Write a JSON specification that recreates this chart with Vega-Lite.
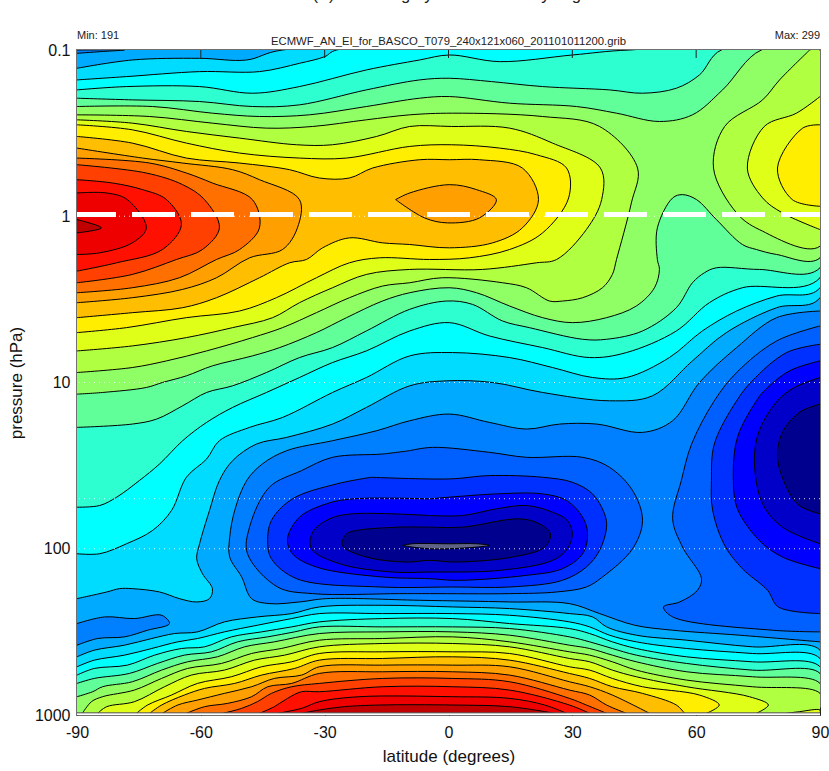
{"$schema":"https://vega.github.io/schema/vega-lite/v6.json","width":743,"height":665,"autosize":"none","padding":{"left":77,"top":50,"right":9,"bottom":56},"background":"white",
"title":{"text":"T (K) zonal avg by ERA-I: January avg","font":"Liberation Sans","fontSize":16.6,"fontWeight":"normal","color":"#222","anchor":"middle","dx":-9,"offset":27},
"config":{"view":{"stroke":"#707070","strokeWidth":2}},
"layer":[
{"data":{"values":[
{"id":"base","lat":-90,"lev":-1},{"id":"base","lat":90,"lev":-1},{"id":"base","lat":90,"lev":2.99},{"id":"base","lat":-90,"lev":2.99},
{"id":"c6a","lat":-90,"lev":-1},{"id":"c6a","lat":-78.5,"lev":-1},{"id":"c6a","lat":-84.4,"lev":-0.99},{"id":"c6a","lat":-90,"lev":-0.98},
{"id":"c6b","lat":-90,"lev":2.45},{"id":"c6b","lat":-83.3,"lev":2.41},{"id":"c6b","lat":-76.1,"lev":2.42},{"id":"c6b","lat":-69.5,"lev":2.4},{"id":"c6b","lat":-67.6,"lev":2.45},{"id":"c6b","lat":-72.9,"lev":2.49},{"id":"c6b","lat":-78.5,"lev":2.53},{"id":"c6b","lat":-85,"lev":2.54},{"id":"c6b","lat":-90,"lev":2.58},
{"id":"c6m","lat":90,"lev":0.57},{"id":"c6m","lat":79.5,"lev":0.61},{"id":"c6m","lat":69.8,"lev":0.79},{"id":"c6m","lat":60.8,"lev":1},{"id":"c6m","lat":54.3,"lev":1.23},{"id":"c6m","lat":47,"lev":1.3},{"id":"c6m","lat":35.9,"lev":1.25},{"id":"c6m","lat":26.9,"lev":1.25},{"id":"c6m","lat":18.9,"lev":1.28},{"id":"c6m","lat":9.9,"lev":1.24},{"id":"c6m","lat":0.2,"lev":1.19},{"id":"c6m","lat":-9.4,"lev":1.23},{"id":"c6m","lat":-17.4,"lev":1.29},{"id":"c6m","lat":-28.1,"lev":1.35},{"id":"c6m","lat":-39.2,"lev":1.41},{"id":"c6m","lat":-45.1,"lev":1.49},{"id":"c6m","lat":-48.9,"lev":1.59},{"id":"c6m","lat":-51.8,"lev":1.77},{"id":"c6m","lat":-53,"lev":1.93},{"id":"c6m","lat":-53,"lev":2.05},{"id":"c6m","lat":-50.1,"lev":2.17},{"id":"c6m","lat":-47.7,"lev":2.3},{"id":"c6m","lat":-43.4,"lev":2.33},{"id":"c6m","lat":-36.1,"lev":2.32},{"id":"c6m","lat":-29.6,"lev":2.3},{"id":"c6m","lat":-7,"lev":2.31},{"id":"c6m","lat":14.8,"lev":2.32},{"id":"c6m","lat":29.3,"lev":2.33},{"id":"c6m","lat":36.6,"lev":2.39},{"id":"c6m","lat":45.1,"lev":2.46},{"id":"c6m","lat":54.3,"lev":2.49},{"id":"c6m","lat":70.5,"lev":2.52},{"id":"c6m","lat":90,"lev":2.56},
{"id":"c5p","lat":90,"lev":0.66},{"id":"c5p","lat":79.5,"lev":0.75},{"id":"c5p","lat":69.8,"lev":0.94},{"id":"c5p","lat":64.4,"lev":1.11},{"id":"c5p","lat":58.9,"lev":1.37},{"id":"c5p","lat":56.4,"lev":1.59},{"id":"c5p","lat":54.3,"lev":1.82},{"id":"c5p","lat":56.7,"lev":1.99},{"id":"c5p","lat":61.3,"lev":2.18},{"id":"c5p","lat":60.3,"lev":2.25},{"id":"c5p","lat":56,"lev":2.32},{"id":"c5p","lat":52.1,"lev":2.35},{"id":"c5p","lat":54.3,"lev":2.41},{"id":"c5p","lat":78.5,"lev":2.49},{"id":"c5p","lat":90,"lev":2.5},
{"id":"c5t","lat":-9.4,"lev":1.41},{"id":"c5t","lat":-3.9,"lev":1.39},{"id":"c5t","lat":9.9,"lev":1.42},{"id":"c5t","lat":18.9,"lev":1.45},{"id":"c5t","lat":32.5,"lev":1.45},{"id":"c5t","lat":39,"lev":1.51},{"id":"c5t","lat":44.6,"lev":1.65},{"id":"c5t","lat":47,"lev":1.83},{"id":"c5t","lat":44.6,"lev":2},{"id":"c5t","lat":37.3,"lev":2.17},{"id":"c5t","lat":33.4,"lev":2.23},{"id":"c5t","lat":26.2,"lev":2.26},{"id":"c5t","lat":14.8,"lev":2.27},{"id":"c5t","lat":-4.6,"lev":2.27},{"id":"c5t","lat":-11.9,"lev":2.27},{"id":"c5t","lat":-32.9,"lev":2.27},{"id":"c5t","lat":-41.4,"lev":2.23},{"id":"c5t","lat":-48.7,"lev":2.03},{"id":"c5t","lat":-48.2,"lev":1.87},{"id":"c5t","lat":-43.4,"lev":1.63},{"id":"c5t","lat":-35.6,"lev":1.53},{"id":"c5t","lat":-28.1,"lev":1.45},{"id":"c5t","lat":-16,"lev":1.43},{"id":"c5t","lat":-9.4,"lev":1.41},
{"id":"c4p","lat":90,"lev":0.77},{"id":"c4p","lat":81.9,"lev":0.82},{"id":"c4p","lat":73.6,"lev":0.99},{"id":"c4p","lat":69.8,"lev":1.11},{"id":"c4p","lat":64.4,"lev":1.37},{"id":"c4p","lat":63.7,"lev":1.59},{"id":"c4p","lat":64,"lev":1.77},{"id":"c4p","lat":66.9,"lev":1.98},{"id":"c4p","lat":71.2,"lev":2.12},{"id":"c4p","lat":77.3,"lev":2.25},{"id":"c4p","lat":79.9,"lev":2.35},{"id":"c4p","lat":90,"lev":2.39},
{"id":"c4t","lat":-18.7,"lev":1.57},{"id":"c4t","lat":0.2,"lev":1.58},{"id":"c4t","lat":9.9,"lev":1.56},{"id":"c4t","lat":22.8,"lev":1.57},{"id":"c4t","lat":30,"lev":1.6},{"id":"c4t","lat":34.9,"lev":1.67},{"id":"c4t","lat":37.8,"lev":1.79},{"id":"c4t","lat":38.3,"lev":1.87},{"id":"c4t","lat":36.6,"lev":2.01},{"id":"c4t","lat":33.4,"lev":2.11},{"id":"c4t","lat":27.6,"lev":2.19},{"id":"c4t","lat":14.8,"lev":2.23},{"id":"c4t","lat":1,"lev":2.23},{"id":"c4t","lat":-16.7,"lev":2.23},{"id":"c4t","lat":-36.8,"lev":2.18},{"id":"c4t","lat":-42.9,"lev":2.06},{"id":"c4t","lat":-43.8,"lev":1.96},{"id":"c4t","lat":-42.9,"lev":1.83},{"id":"c4t","lat":-37.8,"lev":1.7},{"id":"c4t","lat":-27.1,"lev":1.61},{"id":"c4t","lat":-18.7,"lev":1.57},
{"id":"c3p","lat":90,"lev":0.87},{"id":"c3p","lat":82.6,"lev":0.93},{"id":"c3p","lat":76.5,"lev":1.05},{"id":"c3p","lat":74.6,"lev":1.11},{"id":"c3p","lat":70,"lev":1.33},{"id":"c3p","lat":69,"lev":1.57},{"id":"c3p","lat":70,"lev":1.76},{"id":"c3p","lat":75.3,"lev":1.95},{"id":"c3p","lat":80.9,"lev":2.05},{"id":"c3p","lat":90,"lev":2.12},
{"id":"c3t","lat":-4.6,"lev":1.7},{"id":"c3t","lat":11.6,"lev":1.67},{"id":"c3t","lat":22.8,"lev":1.67},{"id":"c3t","lat":28.6,"lev":1.71},{"id":"c3t","lat":32.5,"lev":1.81},{"id":"c3t","lat":33.7,"lev":1.91},{"id":"c3t","lat":32.5,"lev":2.03},{"id":"c3t","lat":27.6,"lev":2.12},{"id":"c3t","lat":18.9,"lev":2.16},{"id":"c3t","lat":2.2,"lev":2.19},{"id":"c3t","lat":-4.6,"lev":2.18},{"id":"c3t","lat":-16,"lev":2.17},{"id":"c3t","lat":-32,"lev":2.11},{"id":"c3t","lat":-37.8,"lev":2.03},{"id":"c3t","lat":-39,"lev":1.94},{"id":"c3t","lat":-36.1,"lev":1.81},{"id":"c3t","lat":-29.6,"lev":1.73},{"id":"c3t","lat":-23.3,"lev":1.7},{"id":"c3t","lat":-4.6,"lev":1.7},
{"id":"c2p","lat":90,"lev":0.97},{"id":"c2p","lat":83.8,"lev":1.03},{"id":"c2p","lat":79.7,"lev":1.11},{"id":"c2p","lat":75.3,"lev":1.29},{"id":"c2p","lat":74.1,"lev":1.47},{"id":"c2p","lat":76.1,"lev":1.73},{"id":"c2p","lat":80.9,"lev":1.87},{"id":"c2p","lat":90,"lev":1.97},
{"id":"c2t","lat":-4.6,"lev":1.8},{"id":"c2t","lat":3.4,"lev":1.8},{"id":"c2t","lat":11.6,"lev":1.76},{"id":"c2t","lat":18.9,"lev":1.74},{"id":"c2t","lat":25.2,"lev":1.78},{"id":"c2t","lat":28.8,"lev":1.83},{"id":"c2t","lat":30,"lev":1.91},{"id":"c2t","lat":28.8,"lev":2},{"id":"c2t","lat":25.2,"lev":2.07},{"id":"c2t","lat":12.4,"lev":2.13},{"id":"c2t","lat":-4.6,"lev":2.14},{"id":"c2t","lat":-13.6,"lev":2.14},{"id":"c2t","lat":-26.4,"lev":2.09},{"id":"c2t","lat":-33.2,"lev":2},{"id":"c2t","lat":-32.9,"lev":1.9},{"id":"c2t","lat":-28.8,"lev":1.82},{"id":"c2t","lat":-23.3,"lev":1.79},{"id":"c2t","lat":-4.6,"lev":1.8},
{"id":"c1p","lat":90,"lev":1.13},{"id":"c1p","lat":85,"lev":1.18},{"id":"c1p","lat":80.9,"lev":1.3},{"id":"c1p","lat":79.7,"lev":1.45},{"id":"c1p","lat":81.9,"lev":1.63},{"id":"c1p","lat":85,"lev":1.74},{"id":"c1p","lat":90,"lev":1.79},
{"id":"c1t","lat":-4.6,"lev":1.87},{"id":"c1t","lat":3.4,"lev":1.87},{"id":"c1t","lat":17.2,"lev":1.82},{"id":"c1t","lat":22,"lev":1.85},{"id":"c1t","lat":24.7,"lev":1.91},{"id":"c1t","lat":23.3,"lev":1.99},{"id":"c1t","lat":15.5,"lev":2.05},{"id":"c1t","lat":1.9,"lev":2.08},{"id":"c1t","lat":-4.6,"lev":2.07},{"id":"c1t","lat":-10.2,"lev":2.08},{"id":"c1t","lat":-19.9,"lev":2.05},{"id":"c1t","lat":-25.7,"lev":1.98},{"id":"c1t","lat":-24.7,"lev":1.91},{"id":"c1t","lat":-22.3,"lev":1.89},{"id":"c1t","lat":-11.9,"lev":1.87},{"id":"c1t","lat":-4.6,"lev":1.87},
{"id":"g","lat":-11.1,"lev":1.98},{"id":"g","lat":-8.7,"lev":1.97},{"id":"g","lat":0.2,"lev":1.97},{"id":"g","lat":6.8,"lev":1.97},{"id":"g","lat":9.9,"lev":1.98},{"id":"g","lat":6.8,"lev":1.99},{"id":"g","lat":0.2,"lev":2},{"id":"g","lat":-4.6,"lev":2},{"id":"g","lat":-8.7,"lev":1.99},{"id":"g","lat":-11.1,"lev":1.98},
{"id":"t8","lat":-90,"lev":-0.89},{"id":"t8","lat":-76.6,"lev":-0.94},{"id":"t8","lat":-60.3,"lev":-0.95},{"id":"t8","lat":-48.9,"lev":-0.94},{"id":"t8","lat":-40.2,"lev":-1},{"id":"t8","lat":90,"lev":-1},{"id":"t8","lat":90,"lev":0.49},{"id":"t8","lat":79.5,"lev":0.55},{"id":"t8","lat":67.3,"lev":0.7},{"id":"t8","lat":59.1,"lev":0.87},{"id":"t8","lat":49.4,"lev":1.08},{"id":"t8","lat":39,"lev":1.11},{"id":"t8","lat":22.8,"lev":1.06},{"id":"t8","lat":10.7,"lev":1},{"id":"t8","lat":-0.5,"lev":0.99},{"id":"t8","lat":-9.4,"lev":1.02},{"id":"t8","lat":-19.9,"lev":1.15},{"id":"t8","lat":-28.1,"lev":1.25},{"id":"t8","lat":-39.2,"lev":1.33},{"id":"t8","lat":-46.5,"lev":1.37},{"id":"t8","lat":-52.3,"lev":1.47},{"id":"t8","lat":-55.5,"lev":1.59},{"id":"t8","lat":-57.9,"lev":1.77},{"id":"t8","lat":-60.3,"lev":1.97},{"id":"t8","lat":-61,"lev":2.06},{"id":"t8","lat":-59.6,"lev":2.15},{"id":"t8","lat":-57.2,"lev":2.24},{"id":"t8","lat":-57.9,"lev":2.3},{"id":"t8","lat":-61,"lev":2.32},{"id":"t8","lat":-65.2,"lev":2.3},{"id":"t8","lat":-70,"lev":2.26},{"id":"t8","lat":-76.6,"lev":2.24},{"id":"t8","lat":-79.7,"lev":2.24},{"id":"t8","lat":-82.8,"lev":2.26},{"id":"t8","lat":-90,"lev":2.3},
{"id":"t9","lat":-90,"lev":-0.82},{"id":"t9","lat":-78,"lev":-0.84},{"id":"t9","lat":-60.3,"lev":-0.87},{"id":"t9","lat":-45.8,"lev":-0.87},{"id":"t9","lat":-36.1,"lev":-0.92},{"id":"t9","lat":-30,"lev":-0.96},{"id":"t9","lat":-27.1,"lev":-1},{"id":"t9","lat":90,"lev":-1},{"id":"t9","lat":90,"lev":0.43},{"id":"t9","lat":79.5,"lev":0.48},{"id":"t9","lat":69.8,"lev":0.57},{"id":"t9","lat":61.5,"lev":0.69},{"id":"t9","lat":53.5,"lev":0.85},{"id":"t9","lat":43.1,"lev":0.97},{"id":"t9","lat":34.9,"lev":0.97},{"id":"t9","lat":25.2,"lev":0.91},{"id":"t9","lat":14.8,"lev":0.85},{"id":"t9","lat":1,"lev":0.82},{"id":"t9","lat":-9.4,"lev":0.84},{"id":"t9","lat":-19.9,"lev":0.97},{"id":"t9","lat":-28.1,"lev":1.06},{"id":"t9","lat":-40.2,"lev":1.21},{"id":"t9","lat":-48.2,"lev":1.27},{"id":"t9","lat":-55.5,"lev":1.35},{"id":"t9","lat":-58.6,"lev":1.46},{"id":"t9","lat":-63.5,"lev":1.57},{"id":"t9","lat":-67.1,"lev":1.77},{"id":"t9","lat":-71.7,"lev":1.89},{"id":"t9","lat":-78,"lev":1.97},{"id":"t9","lat":-84.5,"lev":2.03},{"id":"t9","lat":-90,"lev":2.03},
{"id":"t10","lat":-90,"lev":-0.76},{"id":"t10","lat":-78,"lev":-0.78},{"id":"t10","lat":-60.3,"lev":-0.78},{"id":"t10","lat":-47.5,"lev":-0.74},{"id":"t10","lat":-36.1,"lev":-0.78},{"id":"t10","lat":-19.9,"lev":-0.88},{"id":"t10","lat":-7,"lev":-0.94},{"id":"t10","lat":0.2,"lev":-0.97},{"id":"t10","lat":12.4,"lev":-0.93},{"id":"t10","lat":30,"lev":-0.97},{"id":"t10","lat":43.8,"lev":-1},{"id":"t10","lat":90,"lev":-1},{"id":"t10","lat":90,"lev":0.37},{"id":"t10","lat":71.2,"lev":0.43},{"id":"t10","lat":63.2,"lev":0.52},{"id":"t10","lat":55.2,"lev":0.69},{"id":"t10","lat":43.1,"lev":0.82},{"id":"t10","lat":34.2,"lev":0.85},{"id":"t10","lat":22.8,"lev":0.79},{"id":"t10","lat":9.9,"lev":0.72},{"id":"t10","lat":0.2,"lev":0.64},{"id":"t10","lat":-9.4,"lev":0.69},{"id":"t10","lat":-19.9,"lev":0.81},{"id":"t10","lat":-28.1,"lev":0.88},{"id":"t10","lat":-36.1,"lev":0.97},{"id":"t10","lat":-44.1,"lev":1.06},{"id":"t10","lat":-52.3,"lev":1.15},{"id":"t10","lat":-58.6,"lev":1.24},{"id":"t10","lat":-64.4,"lev":1.35},{"id":"t10","lat":-70,"lev":1.49},{"id":"t10","lat":-74.9,"lev":1.59},{"id":"t10","lat":-80.4,"lev":1.69},{"id":"t10","lat":-84.5,"lev":1.74},{"id":"t10","lat":-90,"lev":1.75},
{"id":"t11","lat":-90,"lev":-0.71},{"id":"t11","lat":-76.6,"lev":-0.7},{"id":"t11","lat":-60.3,"lev":-0.69},{"id":"t11","lat":-47.5,"lev":-0.66},{"id":"t11","lat":-36.1,"lev":-0.67},{"id":"t11","lat":-19.9,"lev":-0.76},{"id":"t11","lat":-7,"lev":-0.82},{"id":"t11","lat":0.2,"lev":-0.83},{"id":"t11","lat":10.4,"lev":-0.81},{"id":"t11","lat":22.8,"lev":-0.78},{"id":"t11","lat":39,"lev":-0.76},{"id":"t11","lat":47,"lev":-0.74},{"id":"t11","lat":55.2,"lev":-0.77},{"id":"t11","lat":60.8,"lev":-0.85},{"id":"t11","lat":66.1,"lev":-1},{"id":"t11","lat":90,"lev":-1},{"id":"t11","lat":90,"lev":0.31},{"id":"t11","lat":75.3,"lev":0.32},{"id":"t11","lat":64.9,"lev":0.31},{"id":"t11","lat":62,"lev":0.34},{"id":"t11","lat":59.1,"lev":0.4},{"id":"t11","lat":55.2,"lev":0.55},{"id":"t11","lat":47,"lev":0.69},{"id":"t11","lat":38.3,"lev":0.74},{"id":"t11","lat":32.5,"lev":0.74},{"id":"t11","lat":19.6,"lev":0.67},{"id":"t11","lat":13.1,"lev":0.63},{"id":"t11","lat":5.8,"lev":0.53},{"id":"t11","lat":-0.5,"lev":0.51},{"id":"t11","lat":-9.4,"lev":0.56},{"id":"t11","lat":-19.9,"lev":0.69},{"id":"t11","lat":-28.1,"lev":0.79},{"id":"t11","lat":-36.1,"lev":0.85},{"id":"t11","lat":-44.1,"lev":0.94},{"id":"t11","lat":-52.3,"lev":1.02},{"id":"t11","lat":-58.6,"lev":1.06},{"id":"t11","lat":-64.4,"lev":1.14},{"id":"t11","lat":-70.7,"lev":1.22},{"id":"t11","lat":-76.6,"lev":1.25},{"id":"t11","lat":-90,"lev":1.27},
{"id":"t12","lat":-90,"lev":-0.66},{"id":"t12","lat":-71.7,"lev":-0.66},{"id":"t12","lat":-57.2,"lev":-0.62},{"id":"t12","lat":-45.8,"lev":-0.6},{"id":"t12","lat":-33.7,"lev":-0.61},{"id":"t12","lat":-19.9,"lev":-0.66},{"id":"t12","lat":-7,"lev":-0.71},{"id":"t12","lat":0.2,"lev":-0.72},{"id":"t12","lat":14.8,"lev":-0.68},{"id":"t12","lat":31,"lev":-0.66},{"id":"t12","lat":40.7,"lev":-0.62},{"id":"t12","lat":51.1,"lev":-0.57},{"id":"t12","lat":59.1,"lev":-0.61},{"id":"t12","lat":66.4,"lev":-0.76},{"id":"t12","lat":75.8,"lev":-1},{"id":"t12","lat":90,"lev":-1},{"id":"t12","lat":90,"lev":0.25},{"id":"t12","lat":79.5,"lev":0.23},{"id":"t12","lat":74.6,"lev":0.2},{"id":"t12","lat":71.2,"lev":0.17},{"id":"t12","lat":64.9,"lev":0.02},{"id":"t12","lat":60.1,"lev":-0.1},{"id":"t12","lat":56.7,"lev":-0.13},{"id":"t12","lat":54.3,"lev":-0.11},{"id":"t12","lat":50.6,"lev":0.07},{"id":"t12","lat":50.6,"lev":0.26},{"id":"t12","lat":51.1,"lev":0.32},{"id":"t12","lat":49.9,"lev":0.43},{"id":"t12","lat":45.5,"lev":0.54},{"id":"t12","lat":38.3,"lev":0.61},{"id":"t12","lat":30,"lev":0.64},{"id":"t12","lat":22.8,"lev":0.61},{"id":"t12","lat":14.8,"lev":0.54},{"id":"t12","lat":6.8,"lev":0.46},{"id":"t12","lat":0.2,"lev":0.43},{"id":"t12","lat":-9.4,"lev":0.46},{"id":"t12","lat":-16,"lev":0.51},{"id":"t12","lat":-24.7,"lev":0.61},{"id":"t12","lat":-32,"lev":0.7},{"id":"t12","lat":-40.9,"lev":0.79},{"id":"t12","lat":-47.5,"lev":0.84},{"id":"t12","lat":-57.2,"lev":0.9},{"id":"t12","lat":-63.5,"lev":0.96},{"id":"t12","lat":-69.3,"lev":1},{"id":"t12","lat":-73.2,"lev":1.03},{"id":"t12","lat":-83.8,"lev":1.06},{"id":"t12","lat":-90,"lev":1.07},
{"id":"t13a","lat":-90,"lev":-0.61},{"id":"t13a","lat":-72.4,"lev":-0.6},{"id":"t13a","lat":-57.2,"lev":-0.56},{"id":"t13a","lat":-44.1,"lev":-0.53},{"id":"t13a","lat":-32.9,"lev":-0.54},{"id":"t13a","lat":-19.9,"lev":-0.58},{"id":"t13a","lat":-9.4,"lev":-0.61},{"id":"t13a","lat":1,"lev":-0.62},{"id":"t13a","lat":22.8,"lev":-0.6},{"id":"t13a","lat":36.6,"lev":-0.54},{"id":"t13a","lat":45.8,"lev":-0.29},{"id":"t13a","lat":44.3,"lev":-0.08},{"id":"t13a","lat":40.7,"lev":0.26},{"id":"t13a","lat":39.7,"lev":0.35},{"id":"t13a","lat":37.3,"lev":0.43},{"id":"t13a","lat":32.5,"lev":0.49},{"id":"t13a","lat":27.6,"lev":0.51},{"id":"t13a","lat":24.5,"lev":0.51},{"id":"t13a","lat":18.9,"lev":0.43},{"id":"t13a","lat":13.1,"lev":0.4},{"id":"t13a","lat":-1.5,"lev":0.37},{"id":"t13a","lat":-9.4,"lev":0.4},{"id":"t13a","lat":-16,"lev":0.42},{"id":"t13a","lat":-24,"lev":0.49},{"id":"t13a","lat":-32,"lev":0.58},{"id":"t13a","lat":-40.2,"lev":0.67},{"id":"t13a","lat":-47.5,"lev":0.73},{"id":"t13a","lat":-58.6,"lev":0.81},{"id":"t13a","lat":-68.3,"lev":0.87},{"id":"t13a","lat":-76.6,"lev":0.91},{"id":"t13a","lat":-90,"lev":0.94},
{"id":"t13b","lat":87.5,"lev":-1},{"id":"t13b","lat":90,"lev":-1},{"id":"t13b","lat":90,"lev":0.18},{"id":"t13b","lat":75.3,"lev":0.08},{"id":"t13b","lat":69.8,"lev":-0.02},{"id":"t13b","lat":64.2,"lev":-0.29},{"id":"t13b","lat":66.9,"lev":-0.54},{"id":"t13b","lat":76.1,"lev":-0.7},{"id":"t13b","lat":80.2,"lev":-0.82},{"id":"t13b","lat":87.5,"lev":-1},
{"id":"t14a","lat":-90,"lev":-0.58},{"id":"t14a","lat":-76.6,"lev":-0.56},{"id":"t14a","lat":-63.5,"lev":-0.51},{"id":"t14a","lat":-50.6,"lev":-0.47},{"id":"t14a","lat":-36.8,"lev":-0.43},{"id":"t14a","lat":-28.1,"lev":-0.43},{"id":"t14a","lat":-17.4,"lev":-0.48},{"id":"t14a","lat":-9.4,"lev":-0.54},{"id":"t14a","lat":0.7,"lev":-0.54},{"id":"t14a","lat":14.8,"lev":-0.53},{"id":"t14a","lat":25.2,"lev":-0.44},{"id":"t14a","lat":36.8,"lev":-0.29},{"id":"t14a","lat":37.1,"lev":-0.1},{"id":"t14a","lat":33.4,"lev":0.08},{"id":"t14a","lat":26.2,"lev":0.26},{"id":"t14a","lat":21.3,"lev":0.28},{"id":"t14a","lat":8.2,"lev":0.32},{"id":"t14a","lat":-9.4,"lev":0.32},{"id":"t14a","lat":-19.9,"lev":0.35},{"id":"t14a","lat":-28.1,"lev":0.43},{"id":"t14a","lat":-36.1,"lev":0.52},{"id":"t14a","lat":-42.6,"lev":0.61},{"id":"t14a","lat":-52.3,"lev":0.67},{"id":"t14a","lat":-63.5,"lev":0.73},{"id":"t14a","lat":-76.6,"lev":0.78},{"id":"t14a","lat":-90,"lev":0.81},
{"id":"t14b","lat":90,"lev":-0.72},{"id":"t14b","lat":84.3,"lev":-0.62},{"id":"t14b","lat":76.5,"lev":-0.54},{"id":"t14b","lat":72.4,"lev":-0.29},{"id":"t14b","lat":76.1,"lev":-0.11},{"id":"t14b","lat":80.9,"lev":-0.02},{"id":"t14b","lat":90,"lev":0.08},
{"id":"t15a","lat":-90,"lev":-0.55},{"id":"t15a","lat":-76.6,"lev":-0.52},{"id":"t15a","lat":-63.5,"lev":-0.44},{"id":"t15a","lat":-50.6,"lev":-0.38},{"id":"t15a","lat":-36.1,"lev":-0.35},{"id":"t15a","lat":-24.7,"lev":-0.35},{"id":"t15a","lat":-9.4,"lev":-0.42},{"id":"t15a","lat":0.7,"lev":-0.43},{"id":"t15a","lat":12.4,"lev":-0.41},{"id":"t15a","lat":21.3,"lev":-0.37},{"id":"t15a","lat":28.6,"lev":-0.29},{"id":"t15a","lat":29.1,"lev":-0.11},{"id":"t15a","lat":22.8,"lev":0.1},{"id":"t15a","lat":14.8,"lev":0.2},{"id":"t15a","lat":5.1,"lev":0.25},{"id":"t15a","lat":-4.6,"lev":0.26},{"id":"t15a","lat":-16.7,"lev":0.25},{"id":"t15a","lat":-24,"lev":0.28},{"id":"t15a","lat":-32,"lev":0.37},{"id":"t15a","lat":-41.7,"lev":0.49},{"id":"t15a","lat":-50.6,"lev":0.57},{"id":"t15a","lat":-63.5,"lev":0.61},{"id":"t15a","lat":-78,"lev":0.67},{"id":"t15a","lat":-90,"lev":0.7},
{"id":"t15b","lat":90,"lev":-0.55},{"id":"t15b","lat":85.8,"lev":-0.53},{"id":"t15b","lat":79.7,"lev":-0.29},{"id":"t15b","lat":83.3,"lev":-0.1},{"id":"t15b","lat":90,"lev":-0.06},
{"id":"t16","lat":-90,"lev":-0.48},{"id":"t16","lat":-76.6,"lev":-0.44},{"id":"t16","lat":-63.5,"lev":-0.35},{"id":"t16","lat":-50.6,"lev":-0.32},{"id":"t16","lat":-38.5,"lev":-0.28},{"id":"t16","lat":-31.3,"lev":-0.23},{"id":"t16","lat":-24,"lev":-0.23},{"id":"t16","lat":-18.4,"lev":-0.29},{"id":"t16","lat":-7,"lev":-0.34},{"id":"t16","lat":0.2,"lev":-0.34},{"id":"t16","lat":7.5,"lev":-0.34},{"id":"t16","lat":17.9,"lev":-0.29},{"id":"t16","lat":21.8,"lev":-0.1},{"id":"t16","lat":17.9,"lev":0.07},{"id":"t16","lat":10.7,"lev":0.16},{"id":"t16","lat":0.2,"lev":0.19},{"id":"t16","lat":-9.4,"lev":0.17},{"id":"t16","lat":-16,"lev":0.16},{"id":"t16","lat":-24,"lev":0.13},{"id":"t16","lat":-30.5,"lev":0.19},{"id":"t16","lat":-34.4,"lev":0.26},{"id":"t16","lat":-38.5,"lev":0.28},{"id":"t16","lat":-45.8,"lev":0.37},{"id":"t16","lat":-56.2,"lev":0.49},{"id":"t16","lat":-64.4,"lev":0.55},{"id":"t16","lat":-76.6,"lev":0.58},{"id":"t16","lat":-90,"lev":0.61},
{"id":"t17a","lat":-90,"lev":-0.41},{"id":"t17a","lat":-74.1,"lev":-0.35},{"id":"t17a","lat":-64.4,"lev":-0.32},{"id":"t17a","lat":-52.3,"lev":-0.28},{"id":"t17a","lat":-45.8,"lev":-0.22},{"id":"t17a","lat":-36.1,"lev":-0.1},{"id":"t17a","lat":-36.6,"lev":0.07},{"id":"t17a","lat":-40.2,"lev":0.2},{"id":"t17a","lat":-48.2,"lev":0.25},{"id":"t17a","lat":-56.2,"lev":0.37},{"id":"t17a","lat":-64.4,"lev":0.44},{"id":"t17a","lat":-76.6,"lev":0.49},{"id":"t17a","lat":-90,"lev":0.52},
{"id":"t17b","lat":-12.8,"lev":-0.1},{"id":"t17b","lat":-9.4,"lev":-0.14},{"id":"t17b","lat":0.2,"lev":-0.19},{"id":"t17b","lat":6.8,"lev":-0.16},{"id":"t17b","lat":11.6,"lev":-0.1},{"id":"t17b","lat":7.5,"lev":0.01},{"id":"t17b","lat":-0.2,"lev":0.04},{"id":"t17b","lat":-5.8,"lev":0.01},{"id":"t17b","lat":-12.8,"lev":-0.1},
{"id":"t18","lat":-90,"lev":-0.35},{"id":"t18","lat":-72.4,"lev":-0.32},{"id":"t18","lat":-63.5,"lev":-0.26},{"id":"t18","lat":-57.2,"lev":-0.2},{"id":"t18","lat":-47.5,"lev":-0.1},{"id":"t18","lat":-45.8,"lev":0.07},{"id":"t18","lat":-50.6,"lev":0.2},{"id":"t18","lat":-56.2,"lev":0.26},{"id":"t18","lat":-65.2,"lev":0.37},{"id":"t18","lat":-76.6,"lev":0.43},{"id":"t18","lat":-90,"lev":0.46},
{"id":"t19","lat":-90,"lev":-0.31},{"id":"t19","lat":-73.2,"lev":-0.26},{"id":"t19","lat":-64.4,"lev":-0.19},{"id":"t19","lat":-59.1,"lev":-0.1},{"id":"t19","lat":-55.5,"lev":0.07},{"id":"t19","lat":-59.6,"lev":0.2},{"id":"t19","lat":-65.9,"lev":0.26},{"id":"t19","lat":-76.6,"lev":0.35},{"id":"t19","lat":-90,"lev":0.4},
{"id":"t20","lat":-90,"lev":-0.22},{"id":"t20","lat":-81.4,"lev":-0.2},{"id":"t20","lat":-74.1,"lev":-0.16},{"id":"t20","lat":-68.3,"lev":-0.1},{"id":"t20","lat":-64.7,"lev":0.05},{"id":"t20","lat":-69.3,"lev":0.2},{"id":"t20","lat":-80.4,"lev":0.28},{"id":"t20","lat":-90,"lev":0.33},
{"id":"t21","lat":-90,"lev":-0.14},{"id":"t21","lat":-82.8,"lev":-0.14},{"id":"t21","lat":-77.8,"lev":-0.1},{"id":"t21","lat":-73.2,"lev":0.07},{"id":"t21","lat":-76.6,"lev":0.16},{"id":"t21","lat":-84.5,"lev":0.22},{"id":"t21","lat":-90,"lev":0.23},
{"id":"t22","lat":-90,"lev":0.02},{"id":"t22","lat":-84.1,"lev":0.07},{"id":"t22","lat":-90,"lev":0.1},
{"id":"b8","lat":-90,"lev":2.65},{"id":"b8","lat":-85.8,"lev":2.61},{"id":"b8","lat":-78.5,"lev":2.58},{"id":"b8","lat":-71.9,"lev":2.54},{"id":"b8","lat":-66.4,"lev":2.51},{"id":"b8","lat":-60.8,"lev":2.5},{"id":"b8","lat":-54.3,"lev":2.44},{"id":"b8","lat":-46.3,"lev":2.41},{"id":"b8","lat":-38,"lev":2.39},{"id":"b8","lat":-31.3,"lev":2.35},{"id":"b8","lat":-16,"lev":2.34},{"id":"b8","lat":1,"lev":2.35},{"id":"b8","lat":14.8,"lev":2.36},{"id":"b8","lat":29.3,"lev":2.39},{"id":"b8","lat":34.9,"lev":2.41},{"id":"b8","lat":38.3,"lev":2.47},{"id":"b8","lat":45.5,"lev":2.52},{"id":"b8","lat":57.7,"lev":2.55},{"id":"b8","lat":73.6,"lev":2.59},{"id":"b8","lat":90,"lev":2.61},{"id":"b8","lat":90,"lev":2.99},{"id":"b8","lat":-90,"lev":2.99},
{"id":"b9","lat":-90,"lev":2.71},{"id":"b9","lat":-85.8,"lev":2.67},{"id":"b9","lat":-78.5,"lev":2.64},{"id":"b9","lat":-71.9,"lev":2.6},{"id":"b9","lat":-65.6,"lev":2.56},{"id":"b9","lat":-60.8,"lev":2.54},{"id":"b9","lat":-54.3,"lev":2.5},{"id":"b9","lat":-46.3,"lev":2.46},{"id":"b9","lat":-38,"lev":2.42},{"id":"b9","lat":-31.3,"lev":2.39},{"id":"b9","lat":-16,"lev":2.39},{"id":"b9","lat":1,"lev":2.39},{"id":"b9","lat":14.8,"lev":2.4},{"id":"b9","lat":29.3,"lev":2.44},{"id":"b9","lat":34.2,"lev":2.47},{"id":"b9","lat":39,"lev":2.52},{"id":"b9","lat":45.5,"lev":2.56},{"id":"b9","lat":57.7,"lev":2.6},{"id":"b9","lat":73.6,"lev":2.63},{"id":"b9","lat":90,"lev":2.66},{"id":"b9","lat":90,"lev":2.99},{"id":"b9","lat":-90,"lev":2.99},
{"id":"b10","lat":-90,"lev":2.76},{"id":"b10","lat":-85.8,"lev":2.72},{"id":"b10","lat":-77.8,"lev":2.7},{"id":"b10","lat":-71.2,"lev":2.64},{"id":"b10","lat":-64.7,"lev":2.6},{"id":"b10","lat":-59.1,"lev":2.59},{"id":"b10","lat":-52.6,"lev":2.53},{"id":"b10","lat":-45.3,"lev":2.5},{"id":"b10","lat":-38,"lev":2.47},{"id":"b10","lat":-31.3,"lev":2.44},{"id":"b10","lat":-16,"lev":2.42},{"id":"b10","lat":1,"lev":2.42},{"id":"b10","lat":14.8,"lev":2.45},{"id":"b10","lat":29.3,"lev":2.48},{"id":"b10","lat":34.2,"lev":2.51},{"id":"b10","lat":39.7,"lev":2.56},{"id":"b10","lat":45.5,"lev":2.6},{"id":"b10","lat":57.7,"lev":2.65},{"id":"b10","lat":73.6,"lev":2.68},{"id":"b10","lat":90,"lev":2.71},{"id":"b10","lat":90,"lev":2.99},{"id":"b10","lat":-90,"lev":2.99},
{"id":"b11","lat":-90,"lev":2.81},{"id":"b11","lat":-85.8,"lev":2.78},{"id":"b11","lat":-77.3,"lev":2.75},{"id":"b11","lat":-70.5,"lev":2.69},{"id":"b11","lat":-64,"lev":2.64},{"id":"b11","lat":-57.4,"lev":2.62},{"id":"b11","lat":-51.1,"lev":2.56},{"id":"b11","lat":-43.8,"lev":2.53},{"id":"b11","lat":-37.3,"lev":2.5},{"id":"b11","lat":-31.3,"lev":2.47},{"id":"b11","lat":-16,"lev":2.47},{"id":"b11","lat":1,"lev":2.47},{"id":"b11","lat":14.8,"lev":2.48},{"id":"b11","lat":29.3,"lev":2.53},{"id":"b11","lat":34.2,"lev":2.56},{"id":"b11","lat":39.7,"lev":2.6},{"id":"b11","lat":45.5,"lev":2.64},{"id":"b11","lat":57.7,"lev":2.69},{"id":"b11","lat":73.6,"lev":2.73},{"id":"b11","lat":90,"lev":2.75},{"id":"b11","lat":90,"lev":2.99},{"id":"b11","lat":-90,"lev":2.99},
{"id":"b12","lat":-90,"lev":2.89},{"id":"b12","lat":-86.2,"lev":2.86},{"id":"b12","lat":-83.8,"lev":2.83},{"id":"b12","lat":-76.6,"lev":2.8},{"id":"b12","lat":-69.5,"lev":2.73},{"id":"b12","lat":-63.2,"lev":2.68},{"id":"b12","lat":-56,"lev":2.65},{"id":"b12","lat":-49.4,"lev":2.59},{"id":"b12","lat":-42.2,"lev":2.56},{"id":"b12","lat":-31.3,"lev":2.51},{"id":"b12","lat":-16,"lev":2.5},{"id":"b12","lat":1,"lev":2.5},{"id":"b12","lat":14.8,"lev":2.52},{"id":"b12","lat":29.3,"lev":2.58},{"id":"b12","lat":34.2,"lev":2.6},{"id":"b12","lat":39.7,"lev":2.64},{"id":"b12","lat":45.5,"lev":2.68},{"id":"b12","lat":57.7,"lev":2.74},{"id":"b12","lat":73.6,"lev":2.77},{"id":"b12","lat":90,"lev":2.81},{"id":"b12","lat":90,"lev":2.99},{"id":"b12","lat":-90,"lev":2.99},
{"id":"b13","lat":-88.7,"lev":2.99},{"id":"b13","lat":-86.5,"lev":2.92},{"id":"b13","lat":-83.8,"lev":2.89},{"id":"b13","lat":-76.1,"lev":2.85},{"id":"b13","lat":-69.5,"lev":2.78},{"id":"b13","lat":-63.2,"lev":2.72},{"id":"b13","lat":-55,"lev":2.69},{"id":"b13","lat":-47.7,"lev":2.63},{"id":"b13","lat":-40.5,"lev":2.6},{"id":"b13","lat":-31.3,"lev":2.55},{"id":"b13","lat":-16,"lev":2.54},{"id":"b13","lat":1,"lev":2.53},{"id":"b13","lat":14.8,"lev":2.56},{"id":"b13","lat":29.3,"lev":2.62},{"id":"b13","lat":34.2,"lev":2.64},{"id":"b13","lat":39.7,"lev":2.68},{"id":"b13","lat":45.5,"lev":2.73},{"id":"b13","lat":57.7,"lev":2.79},{"id":"b13","lat":73.6,"lev":2.83},{"id":"b13","lat":90,"lev":2.87},{"id":"b13","lat":90,"lev":2.99},
{"id":"b14a","lat":-85,"lev":2.99},{"id":"b14a","lat":-82.8,"lev":2.95},{"id":"b14a","lat":-76.1,"lev":2.92},{"id":"b14a","lat":-68.8,"lev":2.83},{"id":"b14a","lat":-62.3,"lev":2.76},{"id":"b14a","lat":-54.3,"lev":2.73},{"id":"b14a","lat":-47,"lev":2.67},{"id":"b14a","lat":-39.7,"lev":2.64},{"id":"b14a","lat":-31.3,"lev":2.59},{"id":"b14a","lat":-16,"lev":2.57},{"id":"b14a","lat":1,"lev":2.57},{"id":"b14a","lat":14.8,"lev":2.59},{"id":"b14a","lat":29.3,"lev":2.66},{"id":"b14a","lat":34.2,"lev":2.68},{"id":"b14a","lat":39.7,"lev":2.73},{"id":"b14a","lat":45.5,"lev":2.77},{"id":"b14a","lat":57.7,"lev":2.83},{"id":"b14a","lat":72.9,"lev":2.89},{"id":"b14a","lat":77.5,"lev":2.94},{"id":"b14a","lat":74.6,"lev":2.99},
{"id":"b14b","lat":81.9,"lev":2.99},{"id":"b14b","lat":85,"lev":2.98},{"id":"b14b","lat":90,"lev":2.97},{"id":"b14b","lat":90,"lev":2.99},
{"id":"b15","lat":-75.6,"lev":2.99},{"id":"b15","lat":-72.9,"lev":2.94},{"id":"b15","lat":-67.1,"lev":2.88},{"id":"b15","lat":-60.8,"lev":2.81},{"id":"b15","lat":-52.6,"lev":2.77},{"id":"b15","lat":-45.3,"lev":2.71},{"id":"b15","lat":-38,"lev":2.68},{"id":"b15","lat":-31.3,"lev":2.63},{"id":"b15","lat":-16,"lev":2.62},{"id":"b15","lat":1,"lev":2.62},{"id":"b15","lat":14.8,"lev":2.63},{"id":"b15","lat":29.3,"lev":2.71},{"id":"b15","lat":34.2,"lev":2.73},{"id":"b15","lat":39.7,"lev":2.78},{"id":"b15","lat":47,"lev":2.83},{"id":"b15","lat":60.8,"lev":2.88},{"id":"b15","lat":65.6,"lev":2.94},{"id":"b15","lat":62.5,"lev":2.99},
{"id":"b16","lat":-72.4,"lev":2.99},{"id":"b16","lat":-69.5,"lev":2.94},{"id":"b16","lat":-64,"lev":2.88},{"id":"b16","lat":-59.1,"lev":2.84},{"id":"b16","lat":-51.8,"lev":2.81},{"id":"b16","lat":-45.3,"lev":2.76},{"id":"b16","lat":-37.3,"lev":2.72},{"id":"b16","lat":-31.3,"lev":2.67},{"id":"b16","lat":-16,"lev":2.66},{"id":"b16","lat":1,"lev":2.65},{"id":"b16","lat":14.8,"lev":2.67},{"id":"b16","lat":29.3,"lev":2.75},{"id":"b16","lat":34.2,"lev":2.78},{"id":"b16","lat":39.7,"lev":2.83},{"id":"b16","lat":47,"lev":2.87},{"id":"b16","lat":55.2,"lev":2.94},{"id":"b16","lat":57.2,"lev":2.99},
{"id":"b17","lat":-69.3,"lev":2.99},{"id":"b17","lat":-65.6,"lev":2.94},{"id":"b17","lat":-60.8,"lev":2.91},{"id":"b17","lat":-54.3,"lev":2.87},{"id":"b17","lat":-47.7,"lev":2.83},{"id":"b17","lat":-42.2,"lev":2.78},{"id":"b17","lat":-35.6,"lev":2.76},{"id":"b17","lat":-31.3,"lev":2.71},{"id":"b17","lat":-16,"lev":2.7},{"id":"b17","lat":1,"lev":2.7},{"id":"b17","lat":14.8,"lev":2.71},{"id":"b17","lat":29.3,"lev":2.8},{"id":"b17","lat":34.2,"lev":2.83},{"id":"b17","lat":39.7,"lev":2.88},{"id":"b17","lat":48.7,"lev":2.99},
{"id":"b18","lat":-63.5,"lev":2.99},{"id":"b18","lat":-59.1,"lev":2.95},{"id":"b18","lat":-53.5,"lev":2.93},{"id":"b18","lat":-47.7,"lev":2.89},{"id":"b18","lat":-43.8,"lev":2.83},{"id":"b18","lat":-38,"lev":2.81},{"id":"b18","lat":-31.3,"lev":2.75},{"id":"b18","lat":-16,"lev":2.74},{"id":"b18","lat":1,"lev":2.74},{"id":"b18","lat":14.8,"lev":2.76},{"id":"b18","lat":29.3,"lev":2.85},{"id":"b18","lat":34.2,"lev":2.88},{"id":"b18","lat":38.3,"lev":2.94},{"id":"b18","lat":43.1,"lev":2.99},
{"id":"b19","lat":-54.7,"lev":2.99},{"id":"b19","lat":-50.1,"lev":2.96},{"id":"b19","lat":-46.3,"lev":2.92},{"id":"b19","lat":-42.9,"lev":2.87},{"id":"b19","lat":-38,"lev":2.83},{"id":"b19","lat":-31.3,"lev":2.81},{"id":"b19","lat":-16,"lev":2.78},{"id":"b19","lat":1,"lev":2.78},{"id":"b19","lat":14.8,"lev":2.8},{"id":"b19","lat":29.3,"lev":2.9},{"id":"b19","lat":33.4,"lev":2.94},{"id":"b19","lat":38.3,"lev":2.99},
{"id":"b20","lat":-45.8,"lev":2.99},{"id":"b20","lat":-42.2,"lev":2.95},{"id":"b20","lat":-39,"lev":2.9},{"id":"b20","lat":-35.6,"lev":2.86},{"id":"b20","lat":-31.3,"lev":2.86},{"id":"b20","lat":-16,"lev":2.83},{"id":"b20","lat":1,"lev":2.83},{"id":"b20","lat":14.8,"lev":2.85},{"id":"b20","lat":29.3,"lev":2.94},{"id":"b20","lat":34.2,"lev":2.99},
{"id":"b21","lat":-41.4,"lev":2.99},{"id":"b21","lat":-35.6,"lev":2.96},{"id":"b21","lat":-31.3,"lev":2.92},{"id":"b21","lat":-21.6,"lev":2.89},{"id":"b21","lat":1,"lev":2.89},{"id":"b21","lat":14.8,"lev":2.9},{"id":"b21","lat":23.3,"lev":2.94},{"id":"b21","lat":28.6,"lev":2.99},
{"id":"b22","lat":-35.6,"lev":2.99},{"id":"b22","lat":-31.3,"lev":2.97},{"id":"b22","lat":-25.2,"lev":2.95},{"id":"b22","lat":-16.7,"lev":2.94},{"id":"b22","lat":1,"lev":2.94},{"id":"b22","lat":14.8,"lev":2.95},{"id":"b22","lat":25.7,"lev":2.99}
]},
"mark":{"type":"line","order":null,"clip":true,"stroke":"#000","strokeWidth":1,"strokeJoin":"round","interpolate":"catmull-rom"},
"encoding":{
"x":{"field":"lat","type":"quantitative","scale":{"domain":[-90,90],"nice":false,"zero":false},
"axis":{"title":"latitude (degrees)","values":[-90,-60,-30,0,30,60,90],"labelExpr":"''+datum.value","grid":false,"domain":false,"tickColor":"#222","tickSize":-8,"labelFont":"Liberation Sans","labelFontSize":16,"labelColor":"#111","labelPadding":17,"titleFont":"Liberation Sans","titleFontSize":17,"titleFontWeight":"normal","titleColor":"#111","titlePadding":8,"labelFlush":false}},
"y":{"field":"lev","type":"quantitative","scale":{"domain":[-1,3],"reverse":true,"nice":false,"zero":false},
"axis":{"title":"pressure (hPa)","values":[-1,0,1,2,3],"labelExpr":"''+pow(10,datum.value)","grid":false,"domain":false,"ticks":false,"labelFont":"Liberation Sans","labelFontSize":16,"labelColor":"#111","labelPadding":7,"titleFont":"Liberation Sans","titleFontSize":17,"titleFontWeight":"normal","titleColor":"#111","titlePadding":9}},
"detail":{"field":"id"},
"fill":{"field":"id","type":"nominal","legend":null,"scale":{
"domain":["g","c1p","c1t","c2p","c2t","c3p","c3t","c4p","c4t","c5p","c5t","c6a","c6b","c6m","base","t8","b8","t9","b9","t10","b10","t11","b11","t12","b12","t13a","t13b","b13","t14a","t14b","b14a","b14b","t15a","t15b","b15","t16","b16","t17a","t17b","b17","t18","b18","t19","b19","t20","b20","t21","b21","t22","b22"],
"range":["#5f6385","#00008f","#00008f","#0000c8","#0000c8","#0000ff","#0000ff","#0030ff","#0030ff","#0060ff","#0060ff","#0080ff","#0080ff","#0080ff","#00aaff","#00dcff","#00dcff","#00ffff","#00ffff","#2dffd0","#2dffd0","#60ff9a","#60ff9a","#90ff66","#90ff66","#b0ff40","#b0ff40","#b0ff40","#e0ff18","#e0ff18","#e0ff18","#e0ff18","#ffee00","#ffee00","#ffee00","#ffbf00","#ffbf00","#ffa000","#ffa000","#ffa000","#ff7000","#ff7000","#ff4000","#ff4000","#ff1000","#ff1000","#ee0000","#ee0000","#c00000","#c00000"]}}
}},
{"data":{"values":[{"lev":2.997}]},"mark":{"type":"rule","color":"white","strokeWidth":4,"clip":true},"encoding":{"y":{"field":"lev","type":"quantitative"}}},
{"data":{"values":[{"lev":2.987}]},"mark":{"type":"rule","color":"#000","strokeWidth":1,"opacity":0.7,"clip":true},"encoding":{"y":{"field":"lev","type":"quantitative"}}},
{"data":{"values":[{"lev":0},{"lev":1},{"lev":1.699},{"lev":2}]},"mark":{"type":"rule","color":"white","strokeWidth":1,"strokeDash":[1,4],"opacity":0.85,"clip":true},"encoding":{"y":{"field":"lev","type":"quantitative"}}},
{"data":{"values":[{"lev":-0.01}]},"mark":{"type":"rule","color":"white","strokeWidth":5,"strokeDash":[43,16],"strokeDashOffset":4,"clip":true},"encoding":{"y":{"field":"lev","type":"quantitative"}}},
{"data":{"values":[{"lat":-60},{"lat":-30},{"lat":0},{"lat":30},{"lat":60}]},"mark":{"type":"rule","color":"#222","strokeWidth":1,"y":0,"y2":8},"encoding":{"x":{"field":"lat","type":"quantitative"}}},
{"data":{"values":[{"lat":0,"lev":-1.02,"label":"ECMWF_AN_EI_for_BASCO_T079_240x121x060_201101011200.grib"}]},"mark":{"type":"text","align":"center","baseline":"bottom","font":"Liberation Sans","fontSize":11.3,"color":"#222"},"encoding":{"x":{"field":"lat","type":"quantitative"},"y":{"field":"lev","type":"quantitative"},"text":{"field":"label"}}},
{"data":{"values":[{"lat":-90,"lev":-1.053,"label":"Min: 191"}]},"mark":{"type":"text","align":"left","baseline":"bottom","font":"Liberation Sans","fontSize":11,"color":"#222"},"encoding":{"x":{"field":"lat","type":"quantitative"},"y":{"field":"lev","type":"quantitative"},"text":{"field":"label"}}},
{"data":{"values":[{"lat":90,"lev":-1.053,"label":"Max: 299"}]},"mark":{"type":"text","align":"right","baseline":"bottom","font":"Liberation Sans","fontSize":11,"color":"#222"},"encoding":{"x":{"field":"lat","type":"quantitative"},"y":{"field":"lev","type":"quantitative"},"text":{"field":"label"}}}
]}
